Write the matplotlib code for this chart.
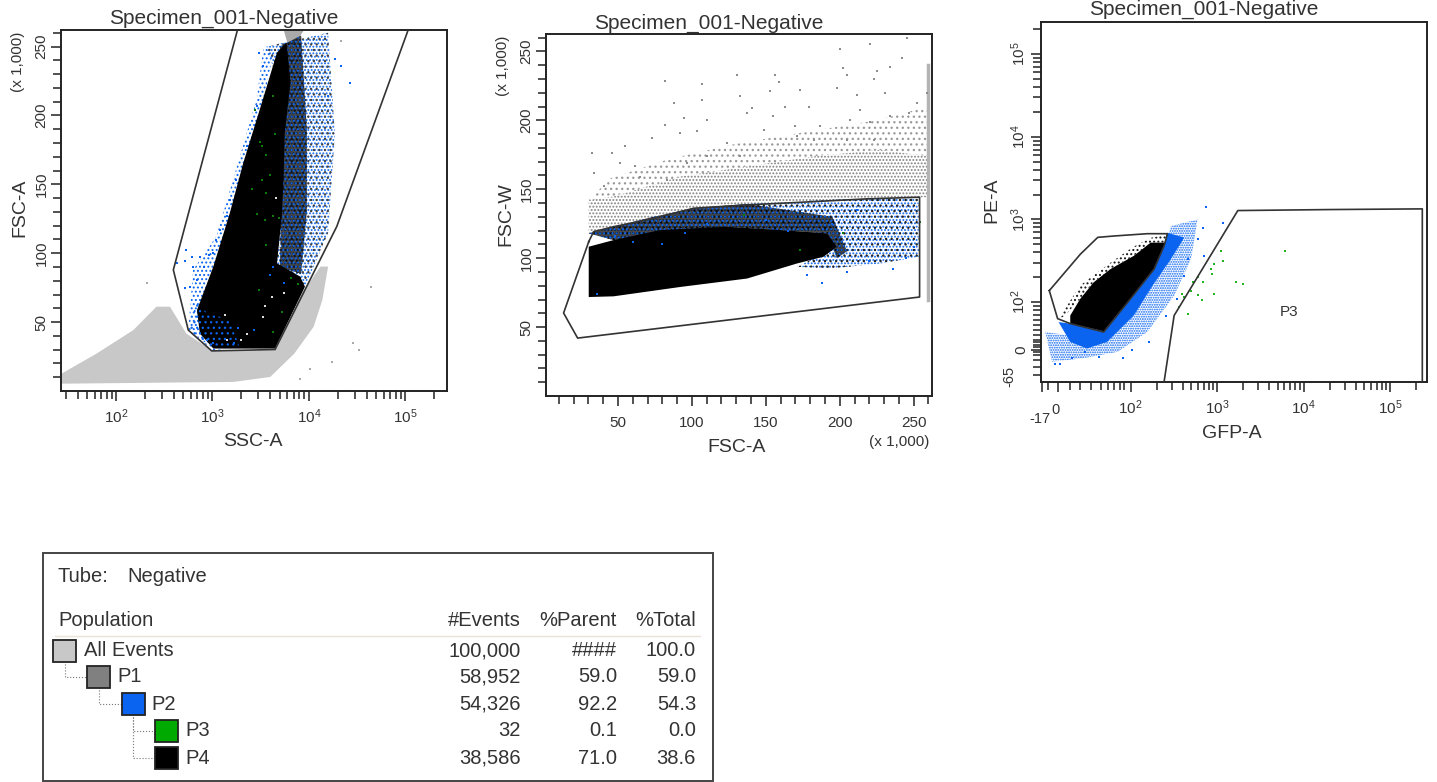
import numpy as np
import matplotlib
matplotlib.use("Agg")
import matplotlib.pyplot as plt
from matplotlib.patches import Rectangle

plt.rcParams['font.family'] = ['Liberation Sans', 'DejaVu Sans']
plt.rcParams['mathtext.fontset'] = 'custom'
plt.rcParams['mathtext.rm'] = 'Liberation Sans'
plt.rcParams['mathtext.default'] = 'regular'
plt.rcParams['hatch.linewidth'] = 0.9

W, H = 1437, 782
TXT = '#333333'
GRAY_LIGHT = '#c8c8c8'
GRAY_DARK = '#808080'
BLUE = '#0a64f0'
GREEN = '#10a010'

# panel 1: SSC-A (log10) against FSC-A (thousands)
p1_gate_ssc = [3.26, 2.595, 2.75, 2.993, 3.65, 4.29, 5.03]
p1_gate_fsc = [262, 87.9, 44.2, 29.1, 30.1, 119.4, 262]
all_ssc = [1.436, 1.80, 2.18, 2.42, 2.56, 2.73, 2.99, 3.65, 3.93, 4.12, 4.20, 4.14, 4.05, 3.85, 3.60, 3.22, 1.436]
all_fsc = [12.6, 27.2, 44.2, 61.2, 61.2, 41.7, 29.6, 29.6, 70.9, 90.3, 90.3, 66.0, 46.6, 27.2, 10.2, 6.6, 5.3]
core_ssc = [3.01, 2.87, 2.84, 3.01, 3.18, 3.32, 3.49, 3.67, 3.77, 3.81, 3.75, 3.74, 3.72, 3.67, 3.91, 3.96, 3.65]
core_fsc = [30.8, 41.7, 58.7, 90.3, 129, 165.5, 204, 245.6, 253, 224, 187, 158, 127, 92.7, 83, 75.7, 30.8]
right_ssc = [3.56, 4.20, 4.27, 4.20, 3.96, 3.65, 3.72, 3.74]
right_fsc = [250, 260, 187, 114.6, 75.7, 90, 163, 211]
inner_ssc = [3.70, 3.92, 3.98, 3.98, 3.92, 3.70, 3.72, 3.74]
inner_fsc = [250, 258, 190, 130, 85, 90, 163, 211]
left_ssc = [2.75, 2.80, 3.04, 3.46, 3.53, 3.63, 3.01]
left_fsc = [44, 88, 112, 212, 250, 245, 30.8]
low_ssc = [2.75, 2.87, 3.01, 3.28, 3.18, 2.94, 2.84]
low_fsc = [44, 37, 29.6, 32, 51.5, 56.8, 66]
top_ssc = [3.74, 3.95, 3.86, 3.78]
top_fsc = [262, 262, 252, 252]
p1_blue_ssc = [2.72, 2.80, 2.785, 2.87, 2.96, 2.72, 2.63, 2.73, 2.84, 2.77, 2.91, 3.01, 3.04, 3.15, 3.08, 3.18, 3.25, 3.36, 3.46, 3.48, 3.53,
               4.33, 4.43, 4.27, 4.20, 2.94, 3.01, 3.22, 3.27, 3.43, 3.60, 3.74, 3.63]
p1_blue_fsc = [74.5, 90.3, 97.6, 97.6, 98.8, 94, 92.7, 102.4, 80.6, 75.7, 90.3, 100, 109.7, 126.7, 117, 138.8, 153.4, 177.7, 206.8, 245.6, 236,
               236, 223.8, 240.8, 214, 36.9, 34.5, 34.5, 45.4, 44.2, 84.2, 78.2, 90.3]
p1_gray_ssc = [4.65, 4.52, 4.46, 4.24, 4.33, 2.32, 3.91, 4.01]
p1_gray_fsc = [75.7, 29.6, 34.5, 21.1, 254, 78.2, 9, 16.3]
p1_green_ssc = [3.49, 3.51, 3.56, 3.41, 3.51, 3.60, 3.56, 3.46, 3.55, 3.63, 3.69, 3.56, 3.48, 3.72, 3.63, 3.82, 3.89, 3.44, 3.63, 3.65]
p1_green_fsc = [181, 177.7, 171.6, 146.8, 153.4, 157, 144, 128.6, 124, 127, 125.5, 106, 73.3, 57.5, 43, 81.8, 78, 204, 214, 186.7]
p1_white_ssc = [3.13, 3.36, 3.30, 3.15, 3.55, 3.53, 3.62, 3.74, 3.70, 3.66]
p1_white_fsc = [55, 41.7, 36.9, 36.9, 62, 54, 68.4, 70.9, 105, 140]

# panel 2: FSC-A against FSC-W (thousands)
p2_gate_a = [30.2, 13.2, 22.7, 254, 254, 218.4, 182.4, 137.3, 101.2, 69.6, 47, 33.5, 30.2]
p2_gate_w = [111.9, 60.2, 42, 71.8, 144.2, 143, 141, 138.6, 136.2, 127.7, 122.8, 119.2, 111.9]
p2_core_a = [30.2, 30.2, 47, 92.2, 137.3, 171, 189, 198, 191.4, 159.8, 123.7, 78.6, 47]
p2_core_w = [108.3, 71.8, 72.3, 79.1, 85.2, 96.1, 101, 108.3, 118, 120.4, 122.8, 120.4, 113.1]
p2_band_a = [30.2, 69.6, 101.2, 137.3, 182.4, 218.4, 253.4, 253.4, 227.5, 193.6, 171, 198, 191.4, 123.7, 47]
p2_band_w = [118, 128.9, 136.2, 139.3, 141.7, 143.4, 143.4, 101, 96.1, 92.5, 93.7, 108.3, 118, 122.8, 113.1]
p2_band_left_a = [30.2, 69.6, 101.2, 137.3, 195, 205, 198, 191.4, 123.7, 47]
p2_band_left_w = [118, 128.9, 136.2, 139.3, 130, 105, 100, 118, 122.8, 113.1]
p2_cloud_a = [30.2, 30.2, 101.2, 182.4, 260.1, 260.1, 227.5, 182.4, 137.3, 92.2, 47]
p2_cloud_w = [142.2, 118, 136.2, 141.7, 144.2, 173.8, 178.6, 173.8, 166.5, 159.2, 144.7]
p2_haze_a = [30.2, 47, 92.2, 137.3, 182.4, 227.5, 260.1, 260.1, 225, 180, 130, 85, 45]
p2_haze_w = [142, 145, 159, 166.5, 174, 178.6, 174, 210, 200, 192, 183, 172, 158]
p2_gray_a = [82, 87.7, 106.8, 106.8, 130.5, 132.8, 156.4, 158.7, 173.4, 153, 200, 220.2, 202, 205, 225, 242, 245.5, 234, 223, 198,
             211.7, 230.8, 163.2, 140.6, 137.3, 179, 94.4, 82, 110, 73, 55, 46, 32.4, 33.5, 61.7, 51.6, 92, 103.4, 123.7, 148.5,
             155, 170, 186.9, 207.2, 220.7, 234.2, 246.6, 214, 252.3, 259, 223, 204.9, 182.4, 171, 132.8, 110, 96.7, 83.1, 65, 40.3]
p2_gray_w = [228.4, 212.6, 226, 215, 233, 217.5, 233, 228, 222, 221, 251.5, 255.6, 238, 233, 235.7, 245, 260, 239, 229.6, 223.5,
             218.7, 220, 210, 209, 205, 210, 201.7, 196.8, 200.5, 187, 181, 176, 176, 161.6, 166.5, 169, 191, 192, 183.5, 193,
             203, 195.6, 195.6, 200.5, 199, 203, 205, 207.8, 212.6, 220, 186, 186, 186, 188.3, 173.8, 173.8, 169, 156.8, 159, 152]
p2_blue_a = [60, 80, 95, 110, 128, 150, 165, 178, 188, 205, 220, 236, 245, 250, 212, 195, 48, 36]
p2_blue_w = [112, 110, 118, 125, 130, 128, 120, 88, 82, 90, 98, 92, 100, 108, 135, 125, 116, 74]
p2_green_a = [173, 202, 254, 135]
p2_green_w = [106, 118, 126, 131]
edge_a = [260, 260]
edge_w = [70, 240]

# panel 3: GFP-A against PE-A
p3_gate_gfp = [244, 319, 1738, 20200, 235700, 235700]
p3_gate_pe = [-65, 69, 1282, 1318, 1343, -65]
p4_gate_gfp = [-9, 0, 13.7, 49, 100, 187, 244, 267, 156, 64, 41.8, 24.6, -9]
p4_gate_pe = [138, 63, 53, 36, 110, 251, 479, 673, 673, 631, 608, 380, 138]
p4_core_gfp = [13.7, 49, 100, 187, 244, 255, 171, 109, 58.5, 37.5, 24.6, 13.7]
p4_core_pe = [53, 37.5, 110, 251, 479, 525, 525, 363, 251, 174, 110, 69]
p4_edge_gfp = [0, 24.6, 58.5, 109, 171, 267, 255, 171, 109, 58.5, 37.5, 24.6, 8]
p4_edge_pe = [60, 160, 300, 470, 600, 660, 525, 525, 363, 251, 174, 110, 69]
p2_solid_gfp = [1.08, 13.7, 31.3, 53.6, 109, 179, 292, 417, 267, 244, 187, 100, 49, 13.7]
p2_solid_pe = [56, 16, 2.7, 16, 69, 158, 331, 603, 692, 479, 251, 110, 37.5, 53]
p2_halo_gfp = [-13.4, -6, 28, 71, 156, 319, 500, 596, 292, 267, 13.7]
p2_halo_pe = [36, -24, -17, -4, 36, 120, 331, 1000, 832, 575, 29]
p3_blue_gfp = [745, 1165, 680, 708, 457, 596, 417, 347, 255, 163, 104, 82, 43, 30, 15.5, -2.5, 2.9]
p3_blue_pe = [1406, 895, 794, 363, 331, 575, 209, 110, 69, 16, -0.7, -16, -14, -4, -17, -29, -29]
p3_green_gfp = [456, 365, 417, 398, 499, 521, 681, 596, 596, 664, 931, 851, 931, 867, 1165, 1114, 1660, 1986, 6166]
p3_green_pe = [72.4, 87, 115, 126, 138, 174, 174, 200, 122, 105, 126, 251, 288, 219, 316, 417, 177, 166, 417]

# table
populations = ['All Events', 'P1', 'P2', 'P3', 'P4']
pop_colors = [GRAY_LIGHT, GRAY_DARK, BLUE, '#00aa00', '#000000']
n_events = ['100,000', '58,952', '54,326', '32', '38,586']
pct_parent = ['####', '59.0', '92.2', '0.1', '71.0']
pct_total = ['100.0', '59.0', '54.3', '0.0', '38.6']

fig = plt.figure(figsize=(W / 100, H / 100), dpi=100)


def px_axes(left, top, right, bottom):
    ax = fig.add_axes([left / W, 1 - bottom / H, (right - left) / W, (bottom - top) / H])
    for s in ax.spines.values():
        s.set_linewidth(1.4)
        s.set_color('#222222')
    return ax


def ftext(x, y, s, **kw):
    kw.setdefault('color', TXT)
    kw.setdefault('ha', 'center')
    kw.setdefault('va', 'center')
    kw.setdefault('fontsize', 14)
    fig.text(x / W, 1 - y / H, s, **kw)


def stipple(ax, x, y, color, hatch='......', z=2):
    ax.fill(x, y, facecolor='none', edgecolor=color, hatch=hatch, linewidth=0, zorder=z)


def dots(ax, x, y, color, z=4, s=3):
    ax.scatter(x, y, s=s, c=color, marker='s', linewidths=0, zorder=z)


def gate(ax, x, y, color='#333333', lw=1.2):
    ax.plot(x, y, color=color, lw=lw, zorder=6, solid_joinstyle='round')


def style_ticks(ax, xpad):
    ax.tick_params(which='major', direction='out', length=7, width=1.1, color='#222222',
                   labelsize=11, labelcolor=TXT)
    ax.tick_params(which='minor', direction='out', length=5.5, width=1.1, color='#222222')
    ax.tick_params(axis='x', which='major', pad=xpad)
    ax.tick_params(axis='y', which='major', labelrotation=90, pad=2)
    for lab in ax.get_yticklabels():
        lab.set_va('center')


# --- panel 1
ax1 = px_axes(61, 30, 447, 391)
ax1.set_xscale('log')
ax1.set_xlim(10 ** 1.43, 10 ** 5.433)
ax1.set_ylim(0, 262)
ax1.fill(10 ** np.array(all_ssc), all_fsc, color=GRAY_LIGHT, lw=0, zorder=1)
ax1.fill(10 ** np.array(top_ssc), top_fsc, color='#aaaaaa', lw=0, zorder=1)
stipple(ax1, 10 ** np.array(left_ssc), left_fsc, BLUE, '....')
stipple(ax1, 10 ** np.array(right_ssc), right_fsc, BLUE, '.....')
stipple(ax1, 10 ** np.array(right_ssc), right_fsc, '#444444', '...', 3)
ax1.fill(10 ** np.array(inner_ssc), inner_fsc, color='black', alpha=0.72, lw=0, zorder=3)
stipple(ax1, 10 ** np.array(inner_ssc), inner_fsc, BLUE, '....', 3)
ax1.fill(10 ** np.array(core_ssc), core_fsc, color='black', lw=0, zorder=3)
stipple(ax1, 10 ** np.array(low_ssc), low_fsc, BLUE, '...', 4)
dots(ax1, 10 ** np.array(p1_gray_ssc), p1_gray_fsc, '#aaaaaa')
dots(ax1, 10 ** np.array(p1_white_ssc), p1_white_fsc, '#dddddd')
dots(ax1, 10 ** np.array(p1_blue_ssc), p1_blue_fsc, BLUE)
dots(ax1, 10 ** np.array(p1_green_ssc), p1_green_fsc, '#0c7a0c', z=5)
gate(ax1, 10 ** np.array(p1_gate_ssc), p1_gate_fsc)
ax1.set_xticks([1e2, 1e3, 1e4, 1e5])
ax1.set_xticklabels(['$10^{2}$', '$10^{3}$', '$10^{4}$', '$10^{5}$'])
ax1.set_xticks([d * m for d in (10, 100, 1000, 10000, 100000) for m in range(2, 10)
                if 10 ** 1.43 < d * m < 10 ** 5.433], minor=True)
ax1.set_yticks([50, 100, 150, 200, 250])
ax1.set_yticklabels(['50', '100', '150', '200', '250'])
ax1.set_yticks(range(10, 261, 10), minor=True)
style_ticks(ax1, 5)
ftext(224, 18, 'Specimen_001-Negative', fontsize=15)
ftext(253, 442, 'SSC-A')
ftext(20, 208, 'FSC-A', rotation=90)
ftext(18, 62, '(x 1,000)', rotation=90, fontsize=11)

# --- panel 2
ax2 = px_axes(546, 34, 932, 396)
ax2.set_xlim(1.3, 262.4)
ax2.set_ylim(0, 262.6)
stipple(ax2, p2_haze_a, p2_haze_w, '#999999', '...')
stipple(ax2, p2_cloud_a, p2_cloud_w, GRAY_DARK, '.....')
dots(ax2, p2_gray_a, p2_gray_w, '#8c8c8c')
ax2.plot(edge_a, edge_w, color='#b4b4b4', lw=2.5, zorder=2)
stipple(ax2, p2_band_a, p2_band_w, BLUE, '.....')
stipple(ax2, p2_band_a, p2_band_w, '#222222', '...', 3)
ax2.fill(p2_band_left_a, p2_band_left_w, color='black', alpha=0.72, lw=0, zorder=3)
stipple(ax2, p2_band_left_a, p2_band_left_w, BLUE, '....', 3)
ax2.fill(p2_core_a, p2_core_w, color='black', lw=0, zorder=3)
dots(ax2, p2_blue_a, p2_blue_w, BLUE)
dots(ax2, p2_green_a, p2_green_w, '#0c7a0c', z=5)
gate(ax2, p2_gate_a, p2_gate_w)
ax2.set_xticks([50, 100, 150, 200, 250])
ax2.set_xticklabels(['50', '100', '150', '200', '250'])
ax2.set_xticks(range(10, 261, 10), minor=True)
ax2.set_yticks([50, 100, 150, 200, 250])
ax2.set_yticklabels(['50', '100', '150', '200', '250'])
ax2.set_yticks(range(10, 261, 10), minor=True)
style_ticks(ax2, 7.5)
ftext(709, 23, 'Specimen_001-Negative', fontsize=15)
ftext(737, 447, 'FSC-A')
ftext(506, 214, 'FSC-W', rotation=90)
ftext(503, 66, '(x 1,000)', rotation=90, fontsize=11)
ftext(899, 442, '(x 1,000)', fontsize=11)

# --- panel 3
ax3 = px_axes(1041, 22, 1427, 382)
ax3.set_xscale('symlog', linthresh=30, linscale=0.288)
ax3.set_yscale('symlog', linthresh=65, linscale=0.35)
ax3.set_xlim(-18, 267000)
ax3.set_ylim(-65, 244000)
stipple(ax3, p2_halo_gfp, p2_halo_pe, BLUE, '.......')
ax3.fill(p2_solid_gfp, p2_solid_pe, color=BLUE, lw=0, zorder=3)
stipple(ax3, p4_edge_gfp, p4_edge_pe, '#111111', '....', 3)
ax3.fill(p4_core_gfp, p4_core_pe, color='black', lw=0, zorder=4)
dots(ax3, p3_blue_gfp, p3_blue_pe, BLUE)
dots(ax3, p3_green_gfp, p3_green_pe, '#22b422', z=5)
gate(ax3, p3_gate_gfp, p3_gate_pe)
gate(ax3, p4_gate_gfp, p4_gate_pe)
ax3.text(6745, 76, 'P3', fontsize=11, color=TXT, ha='center', va='center', zorder=7)
ax3.set_xticks([-17, 0, 1e2, 1e3, 1e4, 1e5])
ax3.set_xticklabels(['', '', '$10^{2}$', '$10^{3}$', '$10^{4}$', '$10^{5}$'])
ax3.set_xticks([-10, 13, 24, 35, 45, 55, 65, 75, 85] + [d * m for d in (100, 1000, 10000, 100000) for m in range(2, 10)
                if d * m < 267000], minor=True)
ax3.set_yticks([0, 1e2, 1e3, 1e4, 1e5])
ax3.set_yticklabels(['0', '$10^{2}$', '$10^{3}$', '$10^{4}$', '$10^{5}$'])
ax3.set_yticks([-50, -35, -20, -10, -5, 5, 10, 15, 20, 30, 40, 50, 60, 70, 80, 90] +
               [d * m for d in (100, 1000, 10000, 100000) for m in range(2, 10) if d * m < 244000], minor=True)
style_ticks(ax3, 5)
ftext(1204, 9, 'Specimen_001-Negative', fontsize=15)
ftext(1232, 433, 'GFP-A')
ftext(992, 200, 'PE-A', rotation=90)
ftext(1040, 419, '-17', fontsize=10.5)
ftext(1056, 410, '0', fontsize=10.5)
ftext(1009, 376, '-65', fontsize=10.5, rotation=90)

# --- table, in image pixels
tb = fig.add_axes([0, 0, 1, 1], zorder=-1)
tb.set_xlim(0, W)
tb.set_ylim(H, 0)
tb.axis('off')
tb.add_patch(Rectangle((43, 553), 670, 228, facecolor='white', edgecolor='#444444', lw=1.4))
kw = dict(fontsize=14.5, color=TXT, va='center')
tb.text(58, 577, 'Tube:', **kw)
tb.text(127, 577, 'Negative', **kw)
tb.text(58, 621, 'Population', **kw)
tb.text(521, 621, '#Events', ha='right', **kw)
tb.text(617, 621, '%Parent', ha='right', **kw)
tb.text(696, 621, '%Total', ha='right', **kw)
tb.plot([55, 700], [636, 636], color='#e8e4d8', lw=1)
row_y = [651, 677, 704, 731, 758]
sw_x = [53, 87, 122, 155, 155]
lab_x = [84, 117, 151, 185, 185]
conn = [None, (65, 651, 87), (99, 677, 122), (133, 704, 155), (133, 704, 155)]
for i, name in enumerate(populations):
    y = row_y[i]
    if conn[i]:
        cx, cy, ex = conn[i]
        tb.plot([cx, cx, ex], [cy + 10, y, y], color='#777777', lw=0.8, ls=':')
    tb.add_patch(Rectangle((sw_x[i], y - 11), 23, 22, facecolor=pop_colors[i], edgecolor='#222222', lw=1.3, zorder=3))
    tb.text(lab_x[i], y, name, **kw)
    tb.text(521, y, n_events[i], ha='right', **kw)
    tb.text(617, y, pct_parent[i], ha='right', **kw)
    tb.text(696, y, pct_total[i], ha='right', **kw)

fig.savefig('out.png', dpi=100, facecolor='white')
